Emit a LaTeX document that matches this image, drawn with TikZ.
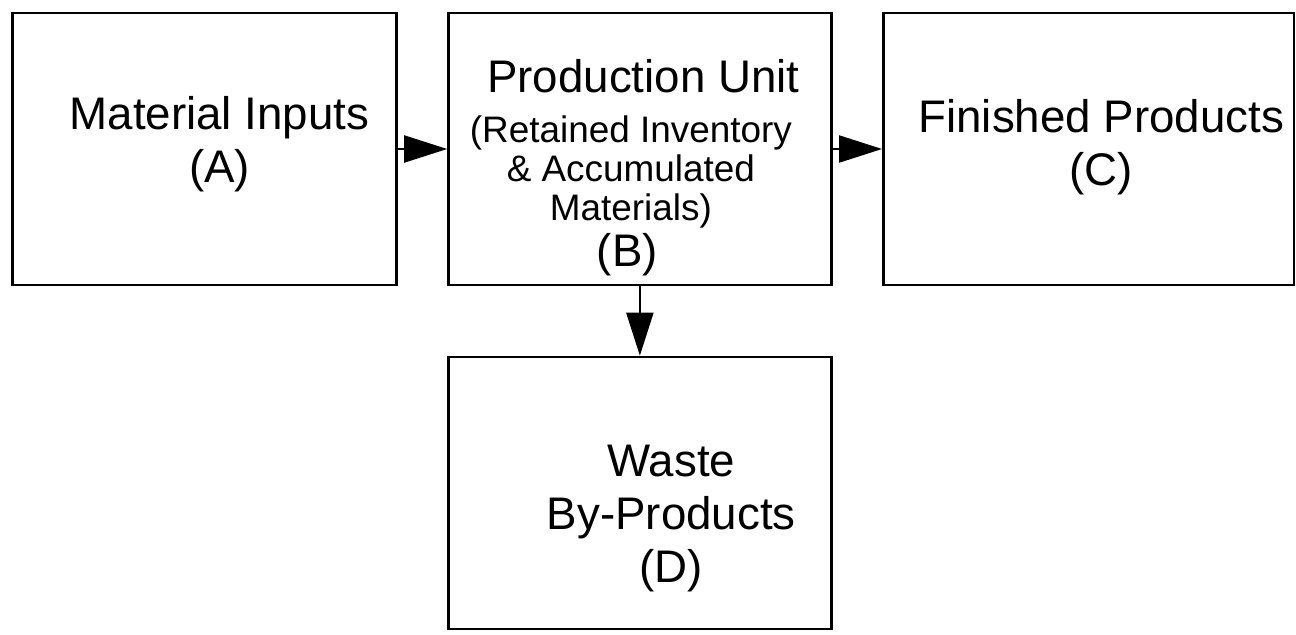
\documentclass[tikz,border=0pt]{standalone}
\usepackage{fontspec}
\setmainfont{Liberation Sans}
\usetikzlibrary{arrows.meta,positioning}
\tikzset{
  blk/.style  = { draw, line width=1.4pt, rectangle, inner sep=0pt,
    minimum height=5.44cm },
  big/.style  = { align=center, inner sep=0pt,
    font=\fontsize{26pt}{30.1pt}\selectfont },
  sml/.style  = { align=center, inner sep=0pt,
    font=\fontsize{21pt}{22.2pt}\selectfont },
  flow/.style = { line width=1.2pt, -{Triangle[length=0.86cm,width=0.54cm]} }
}

\begin{document}
\begin{tikzpicture}[x=0.02cm,y=-0.02cm]
      \useasboundingbox (0,0) rectangle (1296,635);
      % boxes
      \node[blk, minimum width=7.68cm] (ma) at (204.5,149) {};
      \node[blk, minimum width=7.66cm, right=0.99cm of ma] (pu) {};
      \node[blk, minimum width=8.22cm, right=0.99cm of pu] (fp) {};
      \node[blk, minimum width=7.66cm, below=1.39cm of pu] (wb) {};
      % texts
      \node[big, xshift=0.3cm, yshift=0.1cm] (maT) at (ma) {Material Inputs\\(A)};
      \node[big, anchor=base, xshift=0.07cm, yshift=1.14cm] (puT) at (pu) {Production Unit};
      \node[sml, xshift=-0.18cm, yshift=-0.45cm] (puN) at (pu) {(Retained Inventory\\\& Accumulated\\Materials)};
      \node[big, anchor=base, xshift=-0.25cm, yshift=-2.36cm] (puL) at (pu) {(B)};
      \node[big, xshift=0.25cm, yshift=0.04cm] (fpT) at (fp) {Finished Products\\(C)};
      \node[big, xshift=0.63cm, yshift=-0.52cm] (wbT) at (wb) {Waste\\By-Products\\(D)};
      % flows
      \path[flow] (ma) edge (pu);
      \path[flow] (pu) edge (fp);
      \path[flow] (pu) edge (wb);
    \end{tikzpicture}
\end{document}
